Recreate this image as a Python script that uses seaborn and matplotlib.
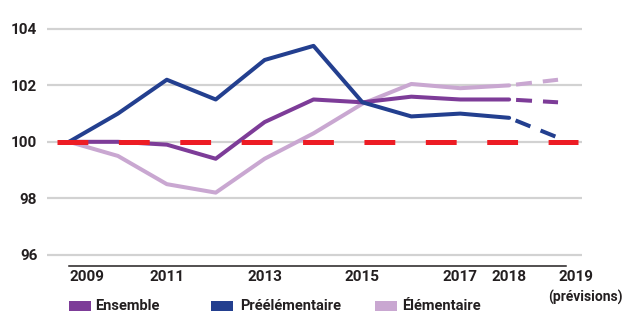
import matplotlib
matplotlib.use("Agg")
import matplotlib.pyplot as plt
from matplotlib.patches import Rectangle
import seaborn as sns
import pandas as pd

# values (base 100 in 2009)
years = [2009, 2010, 2011, 2012, 2013, 2014, 2015, 2016, 2017, 2018, 2019]
ensemble = [100.0, 100.0, 99.9, 99.4, 100.7, 101.5, 101.4, 101.6, 101.5, 101.5, 101.4]
preelementaire = [100.0, 101.0, 102.2, 101.5, 102.9, 103.4, 101.4, 100.9, 101.0, 100.85, 100.15]
elementaire = [100.0, 99.5, 98.5, 98.2, 99.4, 100.3, 101.35, 102.05, 101.9, 102.0, 102.2]
series_names = ["Ensemble", "Préélémentaire", "Élémentaire"]
forecast_from = 2018
y_ticks = [96, 98, 100, 102, 104]
x_ticks = years
x_labels = ["2009", "", "2011", "", "2013", "", "2015", "", "2017", "2018", "2019"]

colors = {"Ensemble": "#7d3c98", "Préélémentaire": "#233f8f", "Élémentaire": "#c9a7d1"}
text_color = "#231f20"

sns.set_theme(style="white")
plt.rcParams["font.family"] = ["Roboto", "DejaVu Sans"]
plt.rcParams["lines.scale_dashes"] = False

df = pd.DataFrame({"year": years * 3,
                   "value": ensemble + preelementaire + elementaire,
                   "serie": [s for s in series_names for _ in years]})
hist = df[df["year"] <= forecast_from]
prev = df[df["year"] >= forecast_from]

fig = plt.figure(figsize=(6.27, 3.12), dpi=100)
ax = fig.add_axes([47 / 627, 1 - 266 / 312, 535 / 627, 254 / 312])

order = ["Élémentaire", "Ensemble", "Préélémentaire"]
sns.lineplot(data=hist, x="year", y="value", hue="serie", hue_order=order,
             palette=colors, lw=2.9, legend=False, ax=ax, zorder=3)
n_before = len(ax.lines)
sns.lineplot(data=prev, x="year", y="value", hue="serie", hue_order=order,
             palette=colors, lw=2.9, legend=False, ax=ax, zorder=3)
for line in ax.lines[n_before:]:
    line.set_linestyle((14.4, (11.5, 7.9)))
    line.set_dash_capstyle("butt")

# reference line at 100
ax.plot([2008.755, 2019.41], [100, 100], color="#ed1c24", lw=3.6,
        linestyle=(0, (22.2, 22.0)), dash_capstyle="butt", zorder=4)

ax.set_xlim(2008.55, 2019.49)
ax.set_ylim(95.6, 104.6)
ax.set_yticks(y_ticks)
ax.set_yticklabels([str(v) for v in y_ticks])
ax.grid(axis="y", color="#d2d2d2", lw=1.6)
ax.grid(axis="x", visible=False)
ax.set_xticks(x_ticks)
ax.set_xticklabels(x_labels)
ax.set_xlabel("")
ax.set_ylabel("")

for s in ["top", "right", "left"]:
    ax.spines[s].set_visible(False)
ax.spines["bottom"].set_color(text_color)
ax.spines["bottom"].set_linewidth(1.1)
ax.spines["bottom"].set_bounds(2009, 2019.16)

ax.tick_params(axis="y", length=0, pad=7, labelsize=11, labelcolor=text_color)
ax.tick_params(axis="x", direction="in", length=2.5, width=1.2, color=text_color,
               pad=3, labelsize=11, labelcolor=text_color)
for lab in ax.get_xticklabels() + ax.get_yticklabels():
    lab.set_fontweight("bold")
xl = ax.get_xticklabels()
xl[0].set_ha("left")
xl[-1].set_ha("left")
for lab in ax.get_yticklabels():
    lab.set_va("center_baseline")

ax.text(2018.8, -0.095, "(prévisions)", transform=ax.get_xaxis_transform(),
        ha="left", va="top", fontsize=10, color=text_color, fontweight="bold")

# legend
legend_items = [("Ensemble", 69, 95), ("Préélémentaire", 211, 240), ("Élémentaire", 375, 402)]
for name, xs, xt in legend_items:
    fig.add_artist(Rectangle((xs / 627, 1 - 311 / 312), 22 / 627, 10 / 312,
                             transform=fig.transFigure, color=colors[name], lw=0))
    fig.text(xt / 627, 1 - 306 / 312, name, ha="left", va="center", fontsize=10.5,
             color=text_color, fontweight="bold")

fig.savefig("out.png", dpi=100)
